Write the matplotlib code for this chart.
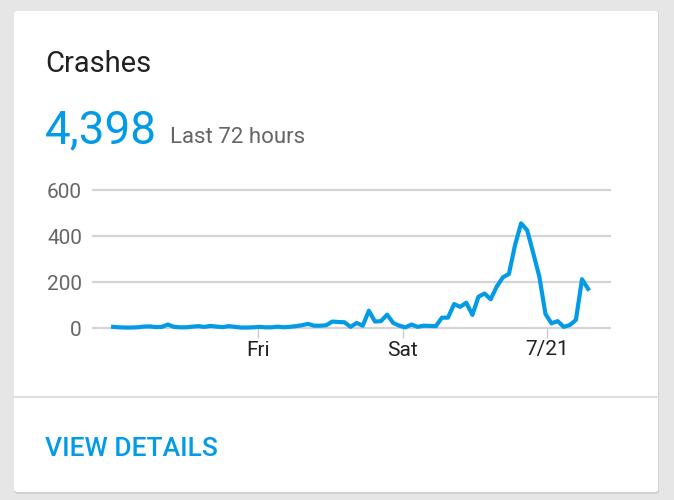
import matplotlib
matplotlib.use("Agg")
import matplotlib.pyplot as plt
from matplotlib.patches import FancyBboxPatch
from matplotlib.lines import Line2D

plt.rcParams['font.family'] = ['Roboto', 'DejaVu Sans']

# hourly crash counts, last 72+ hours
crashes = [5, 3, 2, 2, 3, 6, 7, 4, 5, 15,
           5, 3, 3, 6, 8, 5, 9, 6, 4, 8,
           5, 2, 2, 3, 5, 3, 3, 6, 3, 5,
           8, 12, 18, 10, 10, 12, 28, 26, 25, 5,
           22, 10, 75, 28, 30, 58, 22, 10, 3, 15,
           5, 10, 9, 8, 45, 45, 104, 92, 110, 57,
           136, 150, 125, 180, 220, 235, 360, 455, 425, 325,
           223, 61, 20, 30, 5, 13, 35, 212, 170]
hours = list(range(len(crashes)))

tick_pos = [23.8, 47.6, 71.3]
tick_labels = ['Fri', 'Sat', '7/21']
y_ticks = [0, 200, 400, 600]

total = '4,398'
period = 'Last 72 hours'

W, H = 674, 500
blue = '#039be5'

fig = plt.figure(figsize=(W / 100, H / 100), dpi=100)
fig.patch.set_facecolor('#e6e6e6')


def fx(x):
    return x / W


def fy(y):
    return 1 - y / H


# card shadow + card
shadow = FancyBboxPatch((fx(14), fy(494)), fx(659) - fx(14), fy(12) - fy(494),
                        boxstyle='round,pad=0,rounding_size=0.006',
                        transform=fig.transFigure, facecolor='#d2d2d2',
                        edgecolor='none', zorder=0)
card = FancyBboxPatch((fx(14), fy(492)), fx(658) - fx(14), fy(11) - fy(492),
                      boxstyle='round,pad=0,rounding_size=0.006',
                      transform=fig.transFigure, facecolor='white',
                      edgecolor='none', zorder=0)
fig.patches.extend([shadow, card])

# divider
fig.add_artist(Line2D([fx(14), fx(658)], [fy(397), fy(397)],
                      transform=fig.transFigure, color='#e0e0e0', lw=1.5))

fig.text(fx(45), fy(72), 'Crashes', fontsize=21, color='#212121',
         va='baseline', ha='left')
fig.text(fx(45), fy(143), total, fontsize=33, color=blue,
         va='baseline', ha='left')
fig.text(fx(170), fy(143), period, fontsize=16, color='#666666',
         va='baseline', ha='left')
fig.text(fx(45), fy(456), 'VIEW DETAILS', fontsize=19, color=blue,
         va='baseline', ha='left', fontweight='medium')

# chart
left, right, top, bottom = 93, 610, 190, 328
ax = fig.add_axes([fx(left), fy(bottom), fx(right) - fx(left), fy(top) - fy(bottom)])
ax.set_zorder(5)
ax.set_facecolor('none')
ax.set_xlim(-3.3, 81.6)
ax.set_ylim(0, 600)

for yv in y_ticks:
    ax.axhline(yv, color='#d4d4d4', lw=1.6, clip_on=False, zorder=1)

ax.plot(hours, crashes, color=blue, lw=3, clip_on=False, zorder=3,
        solid_joinstyle='round')

for s in ax.spines.values():
    s.set_visible(False)

ax.set_yticks(y_ticks)
ax.set_yticklabels([str(v) for v in y_ticks])
ax.tick_params(axis='y', length=0, pad=8, labelsize=15, labelcolor='#666666')

ax.set_xticks(tick_pos)
ax.set_xticklabels(tick_labels)
ax.tick_params(axis='x', length=7, width=1, color='#cccccc', pad=2,
               labelsize=15, labelcolor='#212121')

fig.savefig('out.png', dpi=100, facecolor=fig.get_facecolor())
